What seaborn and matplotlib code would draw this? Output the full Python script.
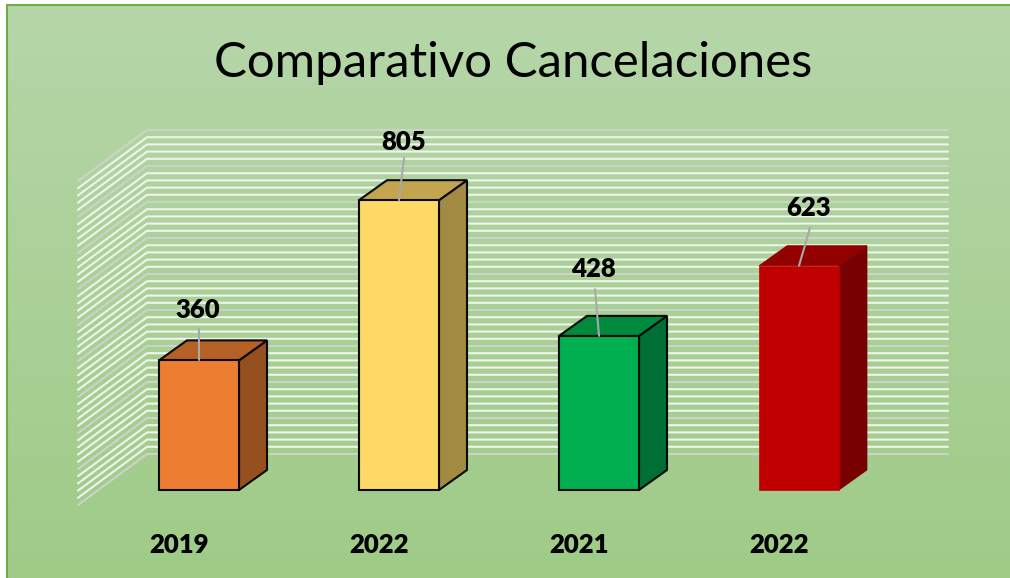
import numpy as np
import pandas as pd
import matplotlib
matplotlib.use('Agg')
import matplotlib.pyplot as plt
import seaborn as sns
from matplotlib.colors import LinearSegmentedColormap
from matplotlib.patches import Polygon

years = ['2019', '2022', '2021', '2022']
values = [360, 805, 428, 623]

front_colors = ['#ED7D31', '#FFD966', '#00B050', '#C00000']
top_colors = ['#B56025', '#C2A54E', '#008A3D', '#930000']
side_colors = ['#964F1E', '#A28A43', '#006F33', '#780000']
has_outline = [True, True, True, False]
leader_ends = [(0.0, 88), (0.025, 117), (-0.02, 130), (0.055, 105)]
label_gaps = [20, 11, 22, 22]
label_shift = [-0.005, 0.0, -0.01, -0.005]

W, H = 1010, 578
sns.set_theme(style='white')
plt.rcParams['font.family'] = ['Lato', 'DejaVu Sans']

fig = plt.figure(figsize=(W / 100, H / 100), dpi=100, facecolor='white')

# green panel with the soft vertical gradient, runs off the right and bottom edges
bg = fig.add_axes([7 / W, 0, 1003 / W, 573 / H])
cmap = LinearSegmentedColormap.from_list('panel', ['#B6D6A9', '#9FCB87'])
bg.imshow(np.linspace(0, 1, 256).reshape(-1, 1), cmap=cmap, aspect='auto')
bg.set_xticks([])
bg.set_yticks([])
for name, s in bg.spines.items():
    s.set_visible(name in ('top', 'left'))
    s.set_color('#70AD47')
    s.set_linewidth(1.5)

# axes box is the pixel area of the fake 3d walls
ax = fig.add_axes([78 / W, 1 - 505 / H, 870 / W, 375 / H])
ax.patch.set_alpha(0)

df = pd.DataFrame({'pos': range(len(values)), 'value': values})
sns.barplot(data=df, x='pos', y='value', hue='pos', palette=front_colors,
            width=0.4, dodge=False, legend=False, saturation=1, ax=ax, zorder=5)

ax.set_xlim(-0.605, 3.745)
ax.set_ylim(-41.67, 1000)

# back wall and side wall
wall_dx, wall_dy = 0.345, 141.67
for g in range(0, 901, 20):
    major = g % 100 == 0
    color = '#CDD3C8' if major else '#EFF4EC'
    ax.plot([-0.605, -0.605 + wall_dx, 3.745],
            [g - 41.67, g - 41.67 + wall_dy, g - 41.67 + wall_dy],
            color=color, lw=1.5, zorder=1, solid_joinstyle='miter', clip_on=False)

# side and top faces built from the bars seaborn drew
depth_x, depth_y = 0.14, 55.6
for i, bar in enumerate(ax.patches[:len(values)]):
    x0, w, h = bar.get_x(), bar.get_width(), bar.get_height()
    x1 = x0 + w
    outline = '#0A0A0A' if has_outline[i] else None
    bar.set_edgecolor(outline or front_colors[i])
    bar.set_linewidth(1.5 if has_outline[i] else 0.5)
    side = [(x1, 0), (x1 + depth_x, depth_y), (x1 + depth_x, h + depth_y), (x1, h)]
    top = [(x0, h), (x0 + depth_x, h + depth_y), (x1 + depth_x, h + depth_y), (x1, h)]
    ax.add_patch(Polygon(side, closed=True, facecolor=side_colors[i],
                         edgecolor=outline or side_colors[i], lw=1.5 if has_outline[i] else 0.5,
                         zorder=4, joinstyle='miter', clip_on=False))
    ax.add_patch(Polygon(top, closed=True, facecolor=top_colors[i],
                         edgecolor=outline or top_colors[i], lw=1.5 if has_outline[i] else 0.5,
                         zorder=4, joinstyle='miter', clip_on=False))

    # data label with grey leader line
    lx, ly = leader_ends[i]
    ax.plot([i, i + lx], [h, h + ly], color='#A9A9A9', lw=1.5, zorder=6, clip_on=False)
    ax.text(i + lx + label_shift[i], h + ly + label_gaps[i], str(values[i]), ha='center', va='bottom',
            fontsize=18.5, fontweight='heavy', color='black', zorder=7, clip_on=False)

ax.set_xticks(np.arange(len(years)) - 0.1, years)
ax.set_yticks([])
ax.set_xlabel('')
ax.set_ylabel('')
ax.tick_params(axis='x', length=0, pad=20, labelsize=18.5, labelcolor='black')
for t in ax.get_xticklabels():
    t.set_fontweight('heavy')
sns.despine(ax=ax, left=True, bottom=True)

fig.text(513 / W, 1 - 63 / H, 'Comparativo Cancelaciones', ha='center', va='center',
         fontsize=35.4, color='black')

fig.savefig('out.png', dpi=100)
